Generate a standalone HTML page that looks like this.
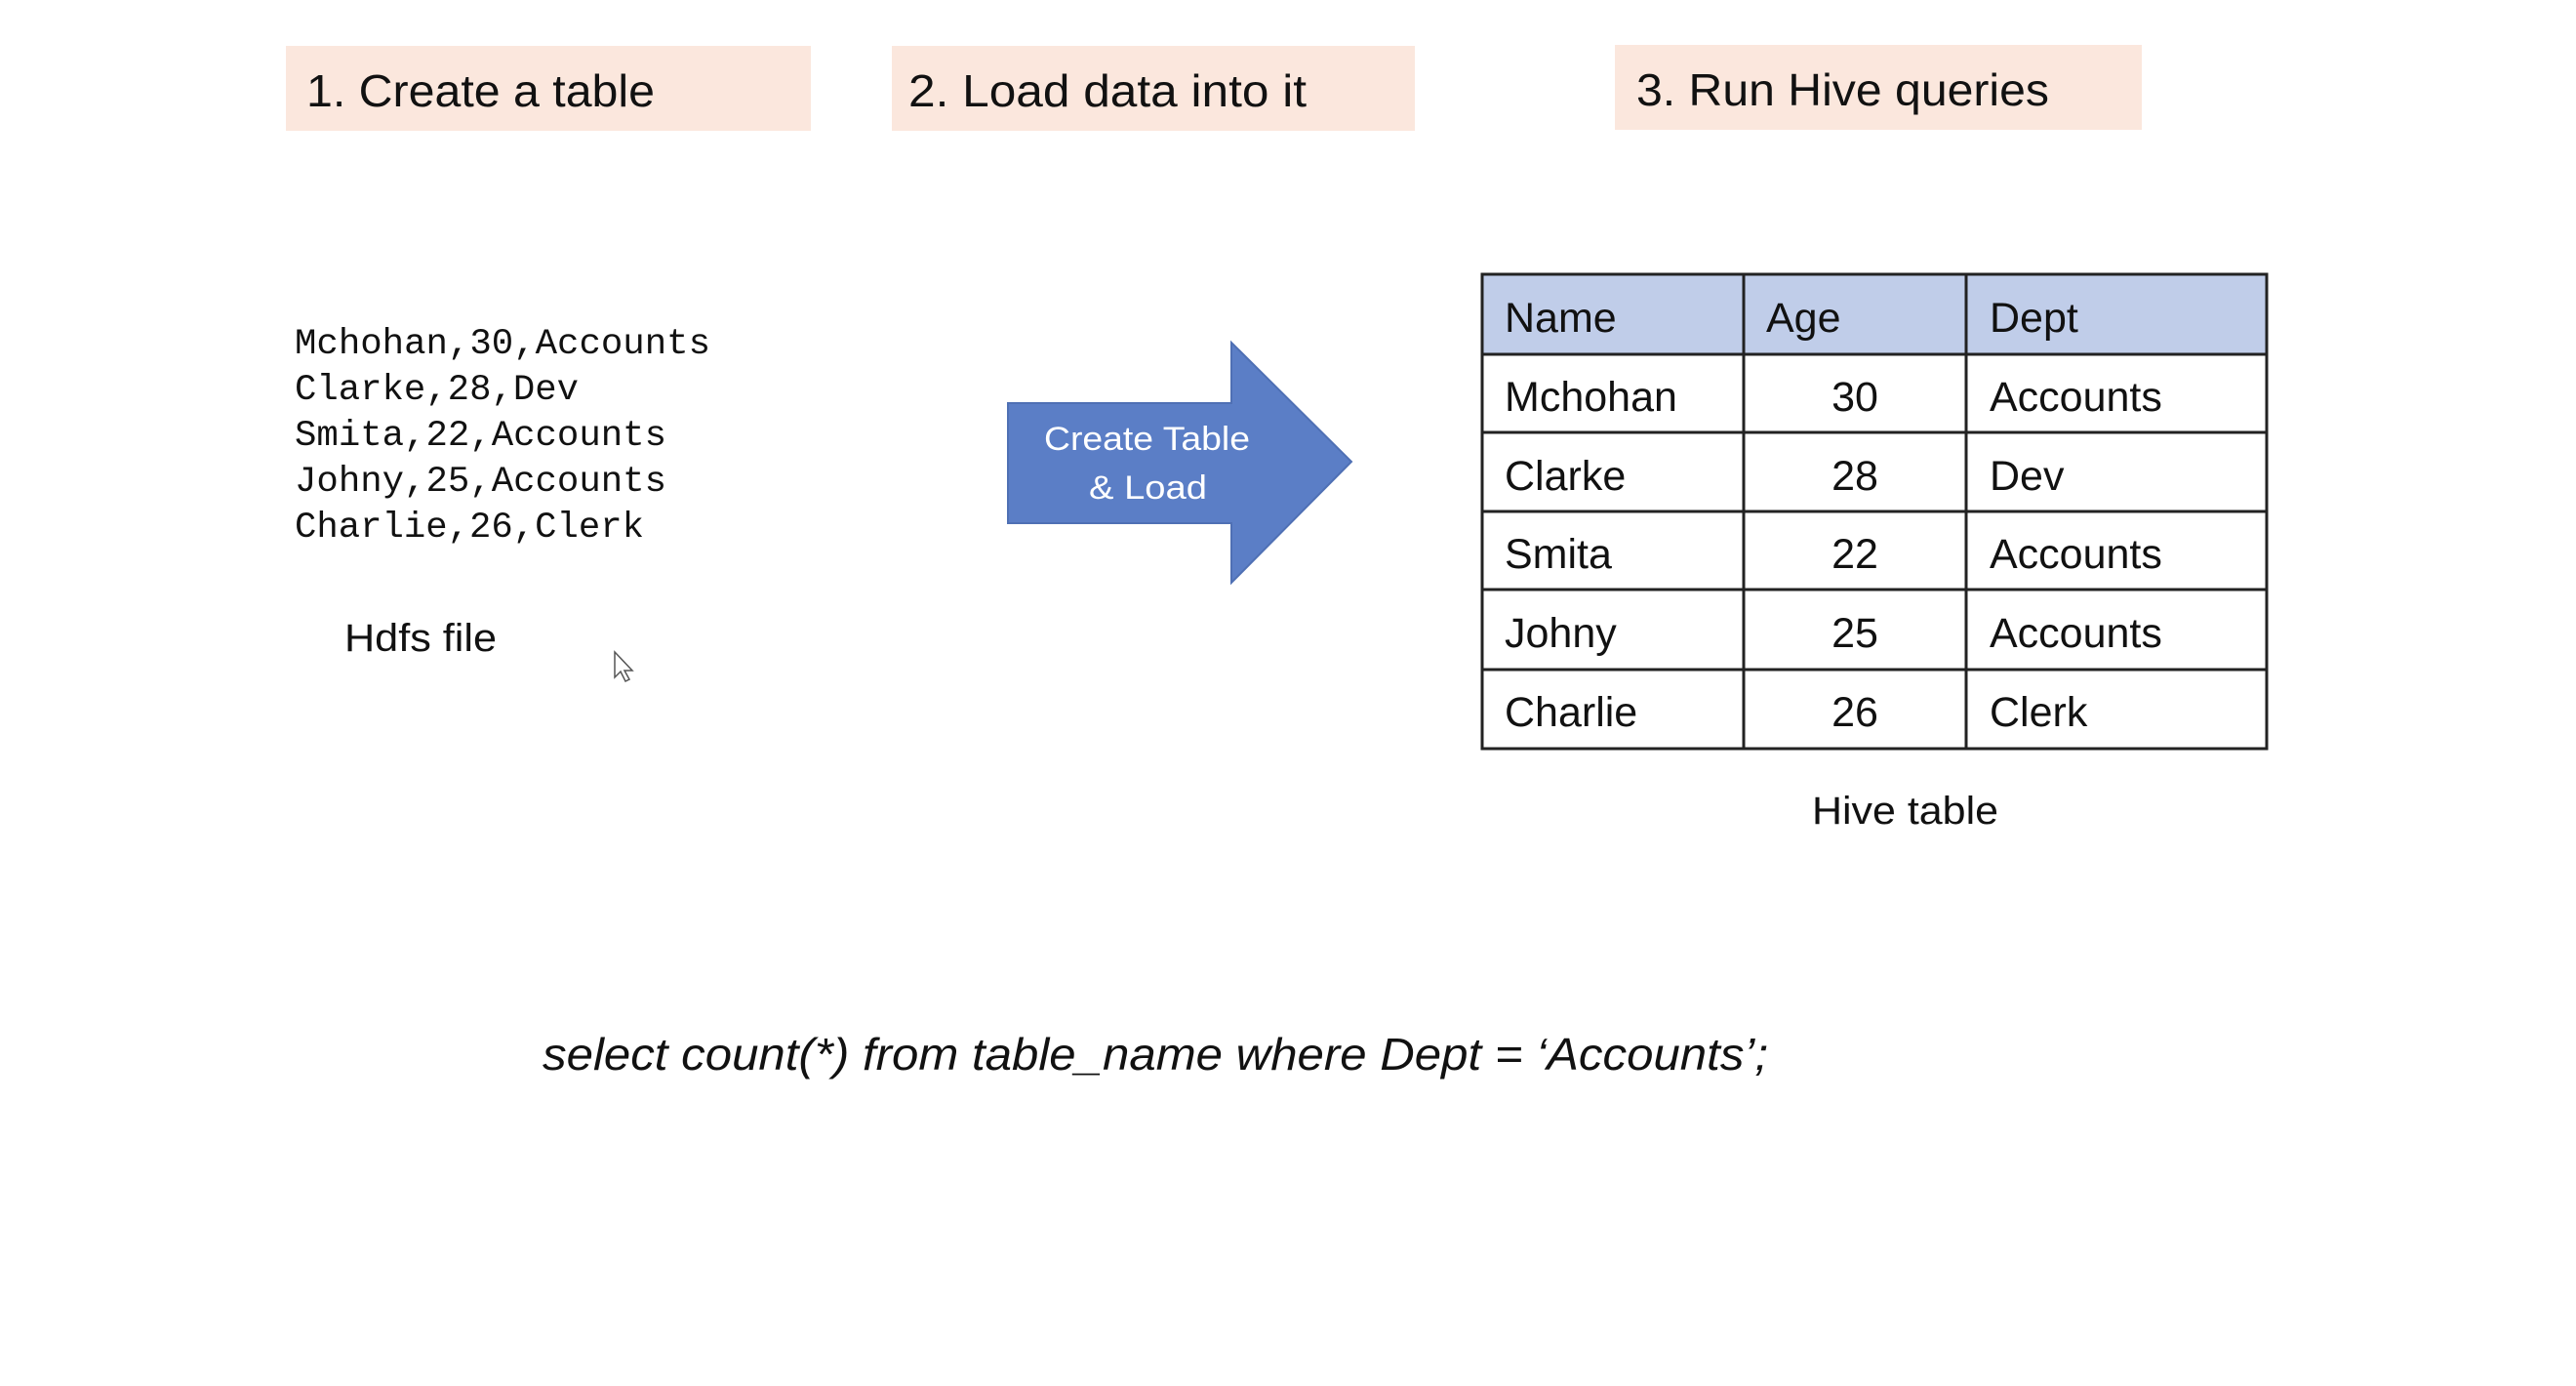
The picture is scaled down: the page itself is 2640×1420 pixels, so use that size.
<!DOCTYPE html>
<html><head><meta charset="utf-8"><style>
html,body{margin:0;padding:0;background:#fff;width:2640px;height:1420px;overflow:hidden}
svg{display:block}
text{font-family:"Liberation Sans",sans-serif;fill:#111}
</style></head><body>
<svg width="2640" height="1420" viewBox="0 0 2640 1420" xmlns="http://www.w3.org/2000/svg">
<rect width="2640" height="1420" fill="#fff"/>
<rect x="293" y="47" width="538" height="87" fill="#fbe7dd"/>
<rect x="914" y="47" width="536" height="87" fill="#fbe7dd"/>
<rect x="1655" y="46" width="540" height="87" fill="#fbe7dd"/>
<text x="314" y="109" font-size="46" textLength="357" lengthAdjust="spacingAndGlyphs">1. Create a table</text>
<text x="931" y="109" font-size="46" textLength="408" lengthAdjust="spacingAndGlyphs">2. Load data into it</text>
<text x="1677" y="108" font-size="46" textLength="423" lengthAdjust="spacingAndGlyphs">3. Run Hive queries</text>

<g font-size="37">
<text x="302" y="362" style="font-family:'Liberation Mono',monospace" textLength="426" lengthAdjust="spacingAndGlyphs">Mchohan,30,Accounts</text>
<text x="302" y="409" style="font-family:'Liberation Mono',monospace" textLength="291" lengthAdjust="spacingAndGlyphs">Clarke,28,Dev</text>
<text x="302" y="456" style="font-family:'Liberation Mono',monospace" textLength="381" lengthAdjust="spacingAndGlyphs">Smita,22,Accounts</text>
<text x="302" y="503" style="font-family:'Liberation Mono',monospace" textLength="381" lengthAdjust="spacingAndGlyphs">Johny,25,Accounts</text>
<text x="302" y="550" style="font-family:'Liberation Mono',monospace" textLength="358" lengthAdjust="spacingAndGlyphs">Charlie,26,Clerk</text>
</g>
<text x="353" y="667" font-size="40" textLength="156" lengthAdjust="spacingAndGlyphs">Hdfs file</text>
<path d="M630 668 L630 694 L636 688 L641 698 L645 696 L640 687 L648 687 Z" fill="#fff" stroke="#555" stroke-width="1.5"/>

<polygon points="1033,413 1262,413 1262,351 1385,473 1262,597 1262,536 1033,536" fill="#5b7ec6" stroke="#4f70b4" stroke-width="2"/>
<text x="1070" y="461" font-size="34" style="fill:#fff" textLength="211" lengthAdjust="spacingAndGlyphs">Create Table</text>
<text x="1116" y="511" font-size="34" style="fill:#fff" textLength="121" lengthAdjust="spacingAndGlyphs">&amp; Load</text>

<rect x="1519" y="281" width="804" height="82" fill="#c0cde9"/>
<g stroke="#222" stroke-width="3" fill="none">
<rect x="1519" y="281" width="804" height="486"/>
<line x1="1519" y1="363" x2="2323" y2="363"/>
<line x1="1519" y1="443" x2="2323" y2="443"/>
<line x1="1519" y1="524" x2="2323" y2="524"/>
<line x1="1519" y1="604" x2="2323" y2="604"/>
<line x1="1519" y1="686" x2="2323" y2="686"/>
<line x1="1787" y1="281" x2="1787" y2="767"/>
<line x1="2015" y1="281" x2="2015" y2="767"/>
</g>
<g font-size="43">
<text x="1542" y="340">Name</text><text x="1810" y="340">Age</text><text x="2039" y="340">Dept</text>
<text x="1542" y="421">Mchohan</text><text x="1901" y="421" text-anchor="middle">30</text><text x="2039" y="421">Accounts</text>
<text x="1542" y="502">Clarke</text><text x="1901" y="502" text-anchor="middle">28</text><text x="2039" y="502">Dev</text>
<text x="1542" y="582">Smita</text><text x="1901" y="582" text-anchor="middle">22</text><text x="2039" y="582">Accounts</text>
<text x="1542" y="663">Johny</text><text x="1901" y="663" text-anchor="middle">25</text><text x="2039" y="663">Accounts</text>
<text x="1542" y="744">Charlie</text><text x="1901" y="744" text-anchor="middle">26</text><text x="2039" y="744">Clerk</text>
</g>
<text x="1857" y="844" font-size="40" textLength="191" lengthAdjust="spacingAndGlyphs">Hive table</text>

<text x="556" y="1096" font-size="46" font-style="italic" textLength="1256" lengthAdjust="spacingAndGlyphs">select count(*) from table_name where Dept = ‘Accounts’;</text>
</svg>
</body></html>
